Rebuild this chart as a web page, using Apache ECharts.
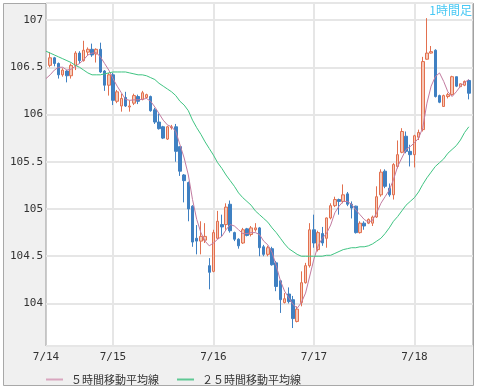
<!DOCTYPE html>
<html>
<head>
<meta charset="utf-8">
<script src="https://cdn.jsdelivr.net/npm/echarts@6/dist/echarts.min.js"></script>
<style>
html,body{margin:0;padding:0;background:#fff;}
#chart{width:478px;height:391px;}
</style>
</head>
<body>
<div id="chart"></div>
<script>
// hourly categories: 7/14 8:00 ... 7/18 14:00 (first & last are edge slots)
const startDay = 14, startHour = 8, slotCount = 103;
const categories = [];
for (let i = 0; i < slotCount; i++) {
  const t = startHour + i;
  categories.push('7/' + (startDay + Math.floor(t / 24)) + ' ' + (t % 24) + ':00');
}
// candles c0..c100 (7/14 9:00 .. 7/18 13:00)
const opens = [106.52,106.60,106.54,106.42,106.46,106.41,106.52,106.65,106.57,106.66,
106.69,106.64,106.69,106.46,106.31,106.42,106.14,106.09,106.18,106.08,
106.12,106.19,106.16,106.18,106.19,106.05,105.92,105.87,105.74,105.86,
105.87,105.66,105.36,105.28,105.03,104.69,104.66,104.67,104.40,104.34,
104.69,104.835,104.835,105.05,104.75,104.68,104.64,104.79,104.73,104.78,
104.80,104.60,104.52,104.58,104.43,104.24,104.01,104.10,104.04,103.81,
104.01,104.22,104.40,104.78,104.57,104.74,104.69,104.905,105.035,105.10,
105.08,105.16,105.05,105.03,104.75,104.85,104.85,104.85,104.915,105.15,
105.40,105.22,105.15,105.45,105.60,105.77,105.61,105.575,105.76,105.84,
106.585,106.65,106.68,106.20,106.085,106.19,106.21,106.40,106.295,106.31,
106.36];
const closes = [106.60,106.54,106.42,106.47,106.41,106.52,106.65,106.57,106.68,106.69,
106.63,106.69,106.45,106.31,106.42,106.15,106.24,106.17,106.09,106.09,
106.20,106.14,106.23,106.21,106.04,105.92,105.85,105.75,105.87,105.87,
105.61,105.40,105.30,105.00,104.65,104.66,104.71,104.71,104.33,104.75,
104.87,104.81,105.02,104.77,104.68,104.61,104.78,104.72,104.80,104.80,
104.59,104.52,104.59,104.41,104.18,104.04,104.05,104.02,103.84,103.94,
104.22,104.40,104.78,104.64,104.75,104.64,104.905,105.035,105.10,105.08,
105.15,105.05,105.01,104.75,104.85,104.82,104.89,104.915,105.13,105.39,
105.24,105.15,105.47,105.575,105.82,105.61,105.575,105.775,105.81,106.56,
106.65,106.665,106.19,106.13,106.20,106.21,106.40,106.30,106.325,106.35,
106.225];
const highs = [106.66,106.61,106.55,106.49,106.47,106.54,106.67,106.67,106.78,106.71,
106.75,106.70,106.76,106.47,106.44,106.44,106.26,106.22,106.24,106.15,
106.22,106.21,106.25,106.22,106.20,106.07,106.01,105.88,105.88,105.89,
105.90,105.66,105.37,105.29,105.04,104.83,104.87,104.85,104.48,104.78,
104.98,104.94,105.06,105.09,104.76,104.69,104.80,104.80,104.82,104.85,
104.81,104.62,104.61,104.60,104.45,104.25,104.11,104.17,104.08,103.97,
104.34,104.43,104.85,104.94,104.77,104.81,104.91,105.06,105.13,105.11,
105.26,105.18,105.08,105.035,104.87,104.87,104.90,104.93,105.24,105.42,
105.42,105.27,105.485,105.725,105.855,105.82,105.68,105.785,105.84,106.61,
107.02,106.725,106.69,106.21,106.21,106.23,106.41,106.40,106.33,106.36,
106.37];
const lows = [106.50,106.51,106.38,106.40,106.34,106.38,106.47,106.54,106.56,106.63,
106.61,106.55,106.44,106.25,106.20,106.10,106.12,106.03,106.08,106.03,
106.10,106.11,106.15,106.17,106.03,105.90,105.84,105.74,105.73,105.84,
105.50,105.35,105.07,104.87,104.60,104.52,104.52,104.64,104.15,104.33,
104.68,104.71,104.78,104.75,104.66,104.58,104.63,104.71,104.71,104.76,
104.50,104.50,104.50,104.40,104.13,103.90,104.00,104.00,103.74,103.80,
103.97,104.21,104.38,104.59,104.55,104.61,104.59,104.89,105.02,104.94,
105.06,105.03,104.90,104.74,104.74,104.78,104.84,104.82,104.905,105.13,
105.22,105.13,105.10,105.43,105.59,105.59,105.45,105.44,105.73,105.82,
106.58,106.645,106.18,106.12,106.08,106.17,106.20,106.29,106.29,106.30,
106.16];
// moving averages: first value is the left edge slot, then c0..c100
const ma5 = [106.38,
106.42,106.47,106.50,106.50,106.47,106.48,106.51,106.54,106.58,106.63,
106.65,106.655,106.61,106.54,106.47,106.38,106.30,106.23,106.16,106.15,
106.155,106.155,106.16,106.17,106.14,106.08,106.01,105.94,105.89,105.87,
105.82,105.68,105.54,105.36,105.10,104.89,104.75,104.66,104.61,104.64,
104.68,104.71,104.78,104.835,104.82,104.78,104.74,104.74,104.75,104.75,
104.73,104.66,104.62,104.54,104.40,104.24,104.13,104.06,103.99,103.95,
104.01,104.11,104.29,104.47,104.61,104.69,104.74,104.83,104.96,105.03,
105.08,105.08,105.05,104.99,104.94,104.89,104.86,104.88,104.96,105.06,
105.13,105.20,105.31,105.45,105.54,105.63,105.66,105.70,105.75,105.86,
106.12,106.30,106.40,106.44,106.35,106.24,106.19,106.24,106.30,106.34,
106.37];
const ma25 = [106.67,
106.65,106.63,106.61,106.59,106.57,106.55,106.52,106.50,106.47,106.44,
106.42,106.42,106.42,106.43,106.44,106.45,106.45,106.45,106.45,106.44,
106.43,106.42,106.42,106.41,106.39,106.37,106.33,106.30,106.27,106.24,
106.20,106.14,106.10,106.04,105.94,105.86,105.79,105.71,105.64,105.57,
105.49,105.43,105.36,105.30,105.24,105.17,105.12,105.08,105.04,104.98,
104.94,104.90,104.86,104.80,104.75,104.69,104.63,104.58,104.55,104.52,
104.50,104.50,104.50,104.50,104.50,104.50,104.51,104.51,104.53,104.55,
104.57,104.58,104.59,104.59,104.60,104.60,104.61,104.63,104.66,104.69,
104.74,104.80,104.87,104.92,104.98,105.04,105.08,105.12,105.18,105.26,
105.33,105.39,105.45,105.49,105.53,105.59,105.63,105.67,105.73,105.81,
105.87];
const legendNames = ['５時間移動平均線', '２５時間移動平均線'];
const titleText = '1時間足';

const candleData = ['-'];
for (let i = 0; i < opens.length; i++) candleData.push([opens[i], closes[i], lows[i], highs[i]]);
candleData.push('-');
const ma5Data = ma5.concat(['-']);
const ma25Data = ma25.concat(['-']);

function isLabelSlot(idx) {
  return idx === 0 || categories[idx].endsWith(' 0:00');
}

const chart = echarts.init(document.getElementById('chart'), null, {renderer: 'canvas'});
chart.setOption({
  animation: false,
  backgroundColor: '#ffffff',
  graphic: [{
    type: 'rect', z: -10, silent: true,
    shape: {x: 3.5, y: 3.5, width: 470, height: 382},
    style: {fill: '#f0f0f0', stroke: '#a8a8a8', lineWidth: 1}
  }],
  title: {
    text: titleText, right: 4, top: 2, padding: 2,
    textStyle: {color: '#48c8f4', fontSize: 12, fontWeight: 'normal', fontFamily: 'Noto Sans CJK JP'}
  },
  legend: {
    data: legendNames, left: 41, top: 369, itemWidth: 17, itemHeight: 2, itemGap: 18,
    icon: 'rect',
    textStyle: {color: '#333', fontSize: 11, fontFamily: 'Noto Sans CJK JP', padding: [0,0,0,3]}
  },
  grid: {left: 46, top: 3, right: 5, bottom: 45, show: true, backgroundColor: '#fff', borderColor: '#999', borderWidth: 1},
  xAxis: {
    type: 'category', data: categories, boundaryGap: false,
    axisLine: {show: false}, axisTick: {show: false},
    axisLabel: {
      interval: (idx) => isLabelSlot(idx),
      formatter: (v) => v.split(' ')[0],
      color: '#333', fontSize: 11, fontFamily: 'DejaVu Sans Mono', margin: 6
    },
    splitLine: {show: true, interval: (idx) => isLabelSlot(idx) && idx !== 0, lineStyle: {color: '#e6e6e6', width: 2}}
  },
  yAxis: {
    type: 'value', min: 103.55, max: 107.18, splitNumber: 7, minInterval: 0.5, maxInterval: 0.5,
    axisLine: {show: false}, axisTick: {show: false},
    axisLabel: {color: '#333', fontSize: 11, fontFamily: 'DejaVu Sans Mono', margin: 3, showMinLabel: false, showMaxLabel: false},
    splitLine: {lineStyle: {color: '#e6e6e6', width: 2}}
  },
  series: [
    {
      type: 'candlestick', name: 'candles', data: candleData, barWidth: 3,
      itemStyle: {color: '#f6c9b8', borderColor: '#e2704f', color0: '#3f80c2', borderColor0: '#3f80c2', borderWidth: 1}
    },
    {type: 'line', name: legendNames[0], data: ma5Data, symbol: 'none', smooth: false,
      lineStyle: {color: '#c27ba0', width: 1}, itemStyle: {color: '#d9a6bf'}},
    {type: 'line', name: legendNames[1], data: ma25Data, symbol: 'none', smooth: false,
      lineStyle: {color: '#3fc482', width: 1}, itemStyle: {color: '#5fc894'}}
  ]
});
</script>
</body>
</html>
